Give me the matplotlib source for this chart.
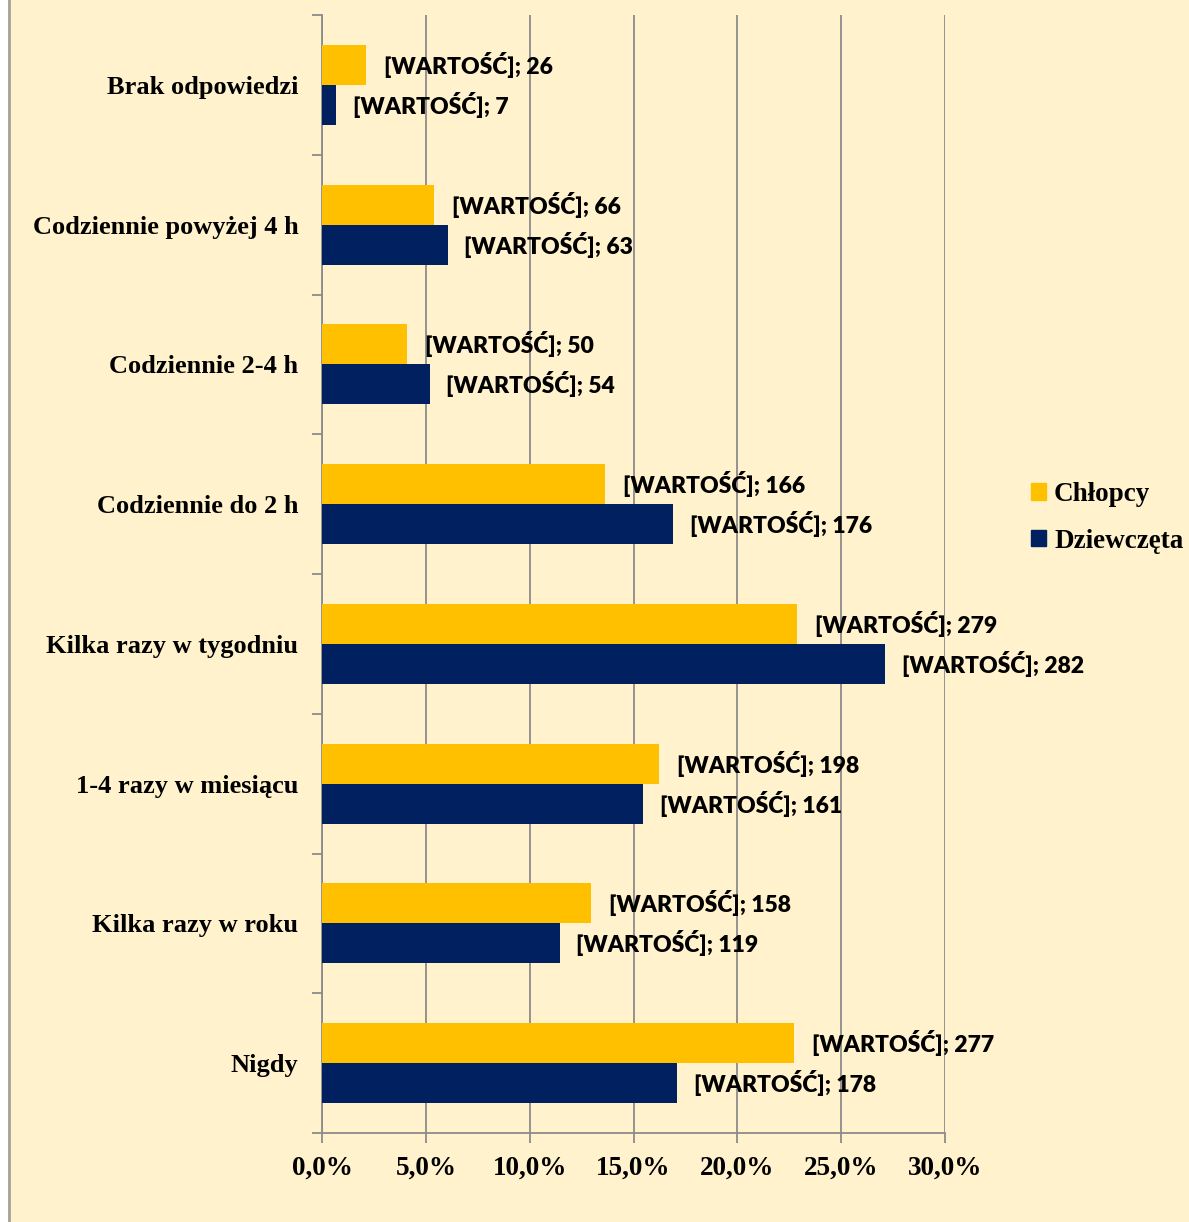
import numpy as np
import matplotlib
matplotlib.use("Agg")
import matplotlib.pyplot as plt
from matplotlib.patches import Patch, Rectangle
from matplotlib.ticker import FixedLocator, FuncFormatter

categories = [
    "Brak odpowiedzi",
    "Codziennie powyżej 4 h",
    "Codziennie 2-4 h",
    "Codziennie do 2 h",
    "Kilka razy w tygodniu",
    "1-4 razy w miesiącu",
    "Kilka razy w roku",
    "Nigdy",
]
boys_n = [26, 66, 50, 166, 279, 198, 158, 277]
girls_n = [7, 63, 54, 176, 282, 161, 119, 178]

# shares as shown on the axis (count / group total)
boys_pct = [100 * v / sum(boys_n) for v in boys_n]
girls_pct = [100 * v / sum(girls_n) for v in girls_n]

BG = "#FFF2CC"
YELLOW = "#FFC000"
NAVY = "#002060"
GRID = "#8C8C8C"

W, H = 1189, 1222
fig = plt.figure(figsize=(W / 100, H / 100), dpi=100, facecolor=BG)

# white strip + grey border on the left edge
fig.patches.append(Rectangle((0, 0), 8 / W, 1, transform=fig.transFigure,
                             facecolor="white", edgecolor="none", zorder=0))
fig.add_artist(plt.Line2D([9 / W, 9 / W], [0, 1], transform=fig.transFigure,
                          color="#A6A29A", lw=2))

ax = fig.add_axes([322 / W, (H - 1133) / H, (945 - 322) / W, (1133 - 15) / H])
ax.set_facecolor(BG)

y = np.arange(len(categories))
h = 40 / 140
ax.barh(y - h / 2, boys_pct, height=h, color=YELLOW, zorder=3)
ax.barh(y + h / 2, girls_pct, height=h, color=NAVY, zorder=3)

lab_font = dict(family=["Lato", "DejaVu Sans"], fontweight="heavy", fontsize=16.5)
for i in range(len(categories)):
    ax.annotate(f"[WARTOŚĆ]; {boys_n[i]}", (boys_pct[i], y[i] - h / 2),
                xytext=(13, 0), textcoords="offset points",
                va="center", ha="left", color="black", zorder=4, **lab_font)
    ax.annotate(f"[WARTOŚĆ]; {girls_n[i]}", (girls_pct[i], y[i] + h / 2),
                xytext=(12, 0), textcoords="offset points",
                va="center", ha="left", color="black", zorder=4, **lab_font)

ax.set_xlim(0, 30)
ax.set_ylim(len(categories) - 0.5, -0.5)

ax.set_xticks(np.arange(0, 31, 5))
ax.xaxis.set_major_formatter(FuncFormatter(lambda v, p: f"{v:.1f}%".replace(".", ",")))
ax.grid(axis="x", color=GRID, lw=1.3, zorder=1)

ax.set_yticks(y)
ax.set_yticklabels(categories)
ax.yaxis.set_minor_locator(FixedLocator(np.arange(-0.5, len(categories), 1)))
ax.tick_params(axis="y", which="major", length=0, pad=17)
ax.tick_params(axis="y", which="minor", length=7, width=1.3, color=GRID, direction="out")
ax.tick_params(axis="x", length=7, width=1.3, color=GRID, direction="out", pad=9)

serif = ["Liberation Serif", "DejaVu Serif"]
for t in ax.get_yticklabels():
    t.set_fontfamily(serif)
    t.set_fontweight("bold")
    t.set_fontsize(19)
for t in ax.get_xticklabels():
    t.set_fontfamily(serif)
    t.set_fontweight("bold")
    t.set_fontsize(19.5)

for s in ["top", "right"]:
    ax.spines[s].set_visible(False)
for s in ["left", "bottom"]:
    ax.spines[s].set_color(GRID)
    ax.spines[s].set_linewidth(1.3)

handles = [Patch(color=YELLOW, label="Chłopcy"), Patch(color=NAVY, label="Dziewczęta")]
fig.legend(handles=handles, loc="center left", bbox_to_anchor=(1031 / W, 1 - 518 / H),
           frameon=False, handlelength=0.55, handleheight=0.55, handletextpad=0.3,
           labelspacing=0.8, borderpad=0, borderaxespad=0,
           prop=dict(family=serif, weight="bold", size=19.5))

fig.savefig("out.png", dpi=100, facecolor=BG)
